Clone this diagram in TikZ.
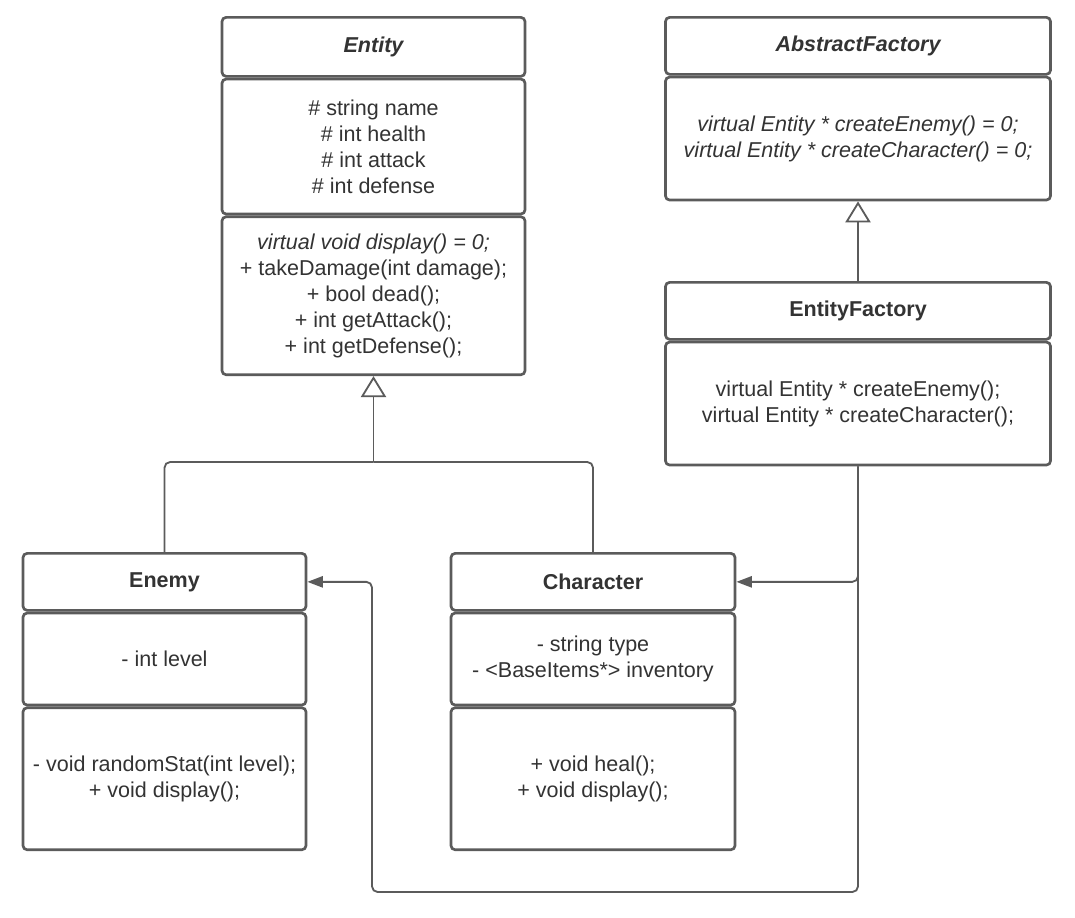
\documentclass[tikz,border=0pt]{standalone}
\usepackage{fontspec}
\setmainfont{Liberation Sans}
\usetikzlibrary{arrows.meta}
\definecolor{umlline}{HTML}{5B5B5B}
\definecolor{umltext}{HTML}{333333}

\begin{document}
\begin{tikzpicture}[x=0.025cm,y=-0.025cm,
    every node/.style={font=\fontsize{15.3}{18.5}\selectfont, text=umltext},
    classpart/.style={draw=umlline, line width=1.9pt, rounded corners=3pt, fill=white,
      anchor=north, align=center, inner sep=2pt},
    classtitle/.style={classpart, font=\fontsize{15.3}{18.5}\selectfont\bfseries},
    abstracttitle/.style={classpart, font=\fontsize{15.3}{18.5}\selectfont\bfseries\itshape},
    link/.style={draw=umlline, line width=1.3pt, rounded corners=4pt},
    inherit/.style={link, -{Triangle[open,length=15pt,width=18pt,line width=1.3pt]}},
    assoc/.style={link, -{Triangle[length=11pt,width=8pt]}}]
      \useasboundingbox (0,0) rectangle (1075,917);

      \node[abstracttitle, minimum width=7.575cm, minimum height=1.475cm] (entity) at (373.5,16) {Entity};
      \node[classpart, minimum width=7.575cm, minimum height=3.375cm] (entityattr) at (entity.south)
        {\# string name\\ \# int health\\ \# int attack\\ \# int defense};
      \node[classpart, minimum width=7.575cm, minimum height=3.95cm] (entitymeth) at (entityattr.south)
        {\textit{virtual void display() = 0;}\\ + takeDamage(int damage);\\ + bool dead();\\ + int getAttack();\\ + int getDefense();};

      \node[abstracttitle, minimum width=9.625cm, minimum height=1.425cm] (afactory) at (858,16) {AbstractFactory};
      \node[classpart, minimum width=9.625cm, minimum height=3.075cm, font=\fontsize{15.3}{18.5}\selectfont\itshape] (afbody) at (afactory.south)
        {virtual Entity * createEnemy() = 0;\\ virtual Entity * createCharacter() = 0;};

      \node[classtitle, minimum width=9.625cm, minimum height=1.425cm] (efactory) at (858,281) {EntityFactory};
      \node[classpart, minimum width=9.625cm, minimum height=3.075cm] (efbody) at (efactory.south)
        {virtual Entity * createEnemy();\\ virtual Entity * createCharacter();};

      \node[classtitle, minimum width=7.075cm, minimum height=1.425cm] (enemy) at (164.5,552) {Enemy};
      \node[classpart, minimum width=7.075cm, minimum height=2.3cm] (enemyattr) at (enemy.south) {- int level};
      \node[classpart, minimum width=7.075cm, minimum height=3.55cm] (enemymeth) at (enemyattr.south)
        {- void randomStat(int level);\\ + void display();};

      \node[classtitle, minimum width=7.1cm, minimum height=1.425cm] (character) at (593,552) {Character};
      \node[classpart, minimum width=7.1cm, minimum height=2.3cm] (charattr) at (character.south)
        {- string type\\ - <BaseItems*> inventory};
      \node[classpart, minimum width=7.1cm, minimum height=3.55cm] (charmeth) at (charattr.south)
        {+ void heal();\\ + void display();};

      \coordinate (joint) at (373.5,462);
      \coordinate (loopL) at (372,892);

      \draw[link] (enemy.north) |- (joint);
      \draw[link] (character.north) |- (joint);
      \draw[inherit] (joint) -- (entitymeth.south);
      \draw[inherit] (efactory.north) -- (afbody.south);
      \draw[assoc] (efbody.south) |- (character.east);
      \draw[assoc] (efbody.south) |- (loopL) |- (enemy.east);
    \end{tikzpicture}
\end{document}
